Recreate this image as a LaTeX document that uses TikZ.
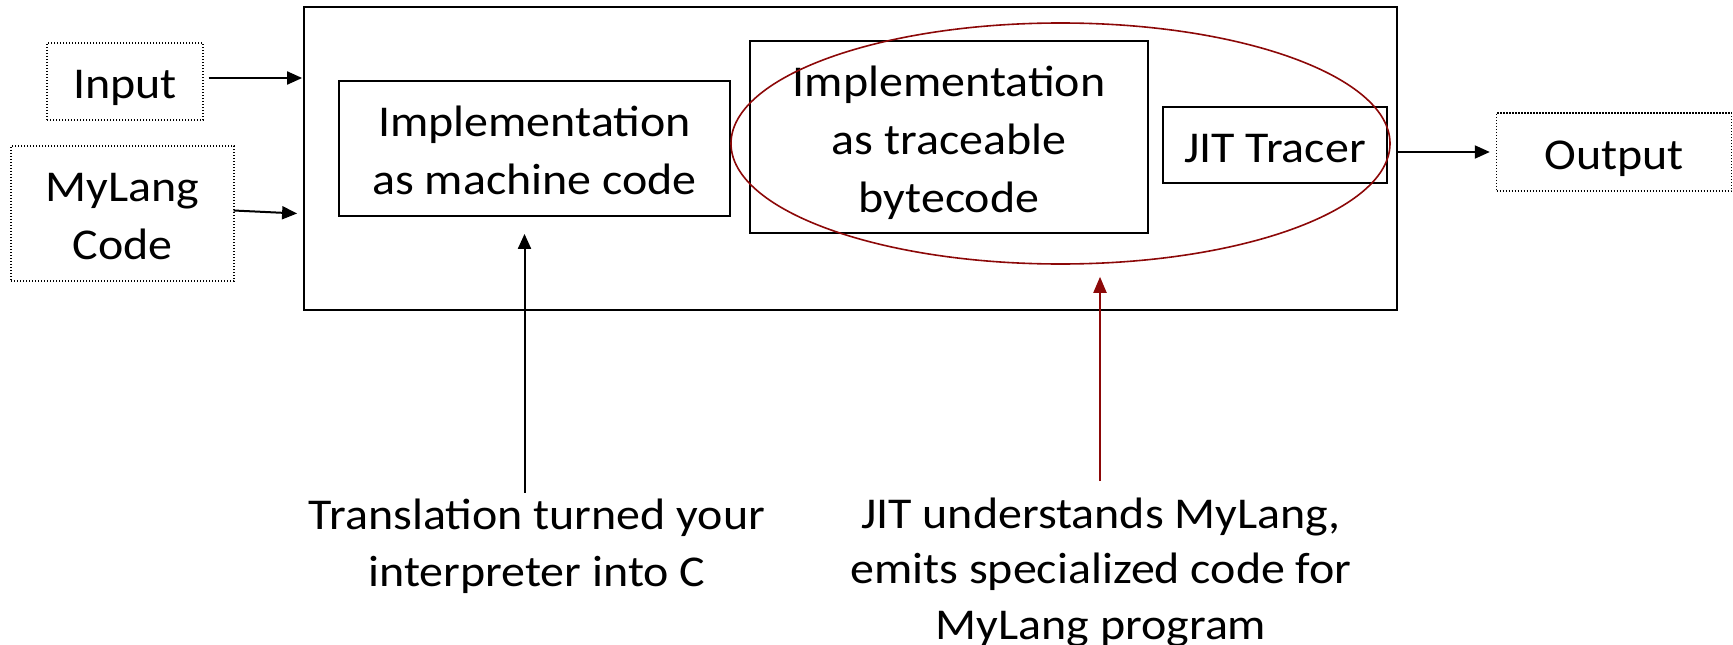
\documentclass[tikz,border=0pt]{standalone}
\usepackage{fontspec}
\setmainfont[FakeStretch=1.09]{Carlito}
\usetikzlibrary{arrows.meta,calc,shapes.geometric}
\definecolor{jitred}{RGB}{140,8,8}
\begin{document}
\begin{tikzpicture}[x=1pt,y=-1pt,
  every node/.style={font=\fontsize{44}{58}\selectfont, align=center, inner sep=0pt},
  % text of #1 lines: fixed extent above the last baseline and below it
  lines/.style={text depth=12pt, text height={46pt+58pt*(#1-1)}},
  solidbox/.style={draw, line width=1.8pt, rectangle},
  dotbox/.style={draw, line width=1.4pt, dash pattern=on 1.4pt off 1.6pt, rectangle},
  arr/.style={line width=2pt, -{Triangle[length=15pt,width=13pt]}},
  redarr/.style={draw=jitred, line width=2pt, -{Triangle[length=16pt,width=13pt]}, color=jitred}]
\useasboundingbox (0,0) rectangle (1733,645);

% inputs and output
\node[dotbox, lines=1, minimum width=156, minimum height=77] (input) at (125,81.5) {Input};
\node[dotbox, lines=2, minimum width=223, minimum height=135] (mylang) at (122.5,213.5) {MyLang\\Code};
\node[dotbox, lines=1, minimum width=235, minimum height=78] (output) at (1614,152) {Output};

% the interpreter system
\node[solidbox, minimum width=1093, minimum height=303] (main) at (850.5,158.5) {};
\node[solidbox, lines=2, minimum width=391, minimum height=135] (machine) at (534.5,148.5) {Implementation\\as machine code};
\node[solidbox, lines=3, minimum width=398, minimum height=192] (bytecode) at (949,137) {Implementation\\as traceable\\bytecode};
\node[solidbox, lines=1, minimum width=224, minimum height=76] (tracer) at (1275,145) {JIT Tracer};
\node[draw=jitred, line width=1.6pt, ellipse, minimum width=659, minimum height=241] (jit) at (1060.5,143.5) {};

% explanations below (anchored at the baseline of the last line)
\node[anchor=base, font=\fontsize{44}{57}\selectfont] (trans) at (537,586) {Translation turned your\\interpreter into C};
\node[anchor=base, font=\fontsize{44}{55.5}\selectfont] (understands) at (1101,639) {JIT understands MyLang,\\emits specialized code for\\MyLang program};

% connectors
\draw[arr] ($(input.east)+(5,-3.5)$) -- ($(input.east -| main.west)+(-1,-3.5)$);
\draw[arr] ($(mylang.east)+(-1,-3)$) -- ($(mylang.east -| main.west)+(-6,0)$);
\draw[arr] (main.east |- output.west) -- ($(output.west)+(-6,0)$);
\coordinate (transtop) at (524.5,492.5);
\draw[arr] (transtop) -- ($(transtop |- machine.south)+(0,17)$);
\coordinate (undtop) at (1100,481);
\draw[redarr] (undtop) -- ($(undtop |- jit.south)+(0,12)$);
\end{tikzpicture}
\end{document}
